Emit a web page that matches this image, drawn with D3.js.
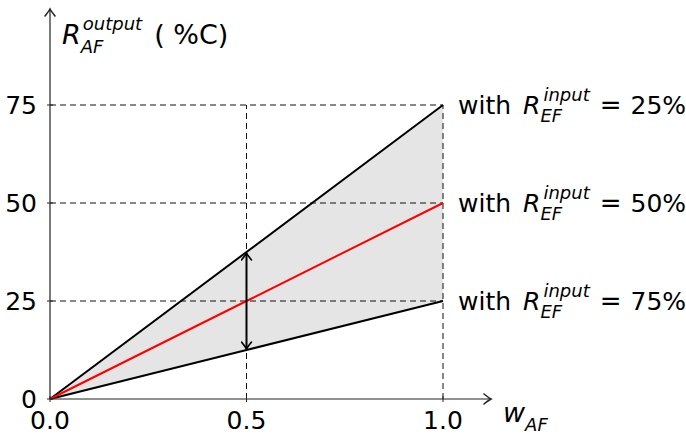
<!DOCTYPE html>
<html>
<head>
<meta charset="utf-8">
<script src="https://cdn.jsdelivr.net/npm/d3@7"></script>
<style>
  body { margin: 0; background: #fff; }
  svg { display: block; font-family: "DejaVu Sans", sans-serif; }
</style>
</head>
<body>
<div id="chart"></div>
<script>
// data
const wAF = [0, 0.5, 1.0];
const outHigh = [0, 37.5, 75];   // R_EF input = 25%
const outMid = [0, 25, 50];      // R_EF input = 50%
const outLow = [0, 12.5, 25];    // R_EF input = 75%
const rInput = [25, 50, 75];
const rEnd = [75, 50, 25];
const xTicks = [0, 0.5, 1.0];
const xTickLabels = ["0.0", "0.5", "1.0"];
const yTicks = [0, 25, 50, 75];

const width = 686, height = 435;

const x = d3.scaleLinear().domain([0, 1]).range([50, 443]);
const y = d3.scaleLinear().domain([0, 75]).range([399, 105]);

const svg = d3.select("#chart").append("svg")
    .attr("width", width)
    .attr("height", height);

// arrow heads
const defs = svg.append("defs");
function marker(id, color) {
    defs.append("marker")
        .attr("id", id)
        .attr("viewBox", "-10 -6 12 12")
        .attr("refX", 0).attr("refY", 0)
        .attr("markerWidth", 12).attr("markerHeight", 12)
        .attr("markerUnits", "userSpaceOnUse")
        .attr("orient", "auto-start-reverse")
        .append("path")
        .attr("d", "M-7,-5 Q-2,-1 0,0 Q-2,1 -7,5")
        .attr("fill", "none")
        .attr("stroke", color)
        .attr("stroke-width", 1.6)
        .attr("stroke-linecap", "round");
}
marker("ah", "#000");
marker("axh", "#222");

// shaded band between upper and lower line
const band = wAF.map((w, i) => ({ w, lo: outLow[i], hi: outHigh[i] }));
svg.append("path")
    .datum(band)
    .attr("fill", "#e5e5e5")
    .attr("d", d3.area().x(d => x(d.w)).y0(d => y(d.lo)).y1(d => y(d.hi)));

// dashed guides
const grid = svg.append("g")
    .attr("stroke", "#111")
    .attr("stroke-width", 1)
    .attr("stroke-dasharray", "6,4");
grid.selectAll(".hg").data(yTicks.filter(t => t > 0)).join("line")
    .attr("x1", x(0)).attr("x2", x(1))
    .attr("y1", d => y(d)).attr("y2", d => y(d));
grid.selectAll(".vg").data(xTicks.filter(t => t > 0)).join("line")
    .attr("x1", d => x(d)).attr("x2", d => x(d))
    .attr("y1", y(0)).attr("y2", y(75));

// lines
const line = d3.line().x((d, i) => x(wAF[i])).y(d => y(d));
svg.append("path").datum(outHigh).attr("d", line)
    .attr("fill", "none").attr("stroke", "#000").attr("stroke-width", 2);
svg.append("path").datum(outLow).attr("d", line)
    .attr("fill", "none").attr("stroke", "#000").attr("stroke-width", 2);
svg.append("path").datum(outMid).attr("d", line)
    .attr("fill", "none").attr("stroke", "#ff0000").attr("stroke-width", 2);

// double arrow at w = 0.5
svg.append("line")
    .attr("x1", x(wAF[1])).attr("x2", x(wAF[1]))
    .attr("y1", y(outLow[1]) - 1).attr("y2", y(outHigh[1]) + 1)
    .attr("stroke", "#000").attr("stroke-width", 2)
    .attr("marker-start", "url(#ah)")
    .attr("marker-end", "url(#ah)");

// axes
svg.append("line")
    .attr("x1", x(0)).attr("x2", 491)
    .attr("y1", y(0)).attr("y2", y(0))
    .attr("stroke", "#222").attr("stroke-width", 1.2)
    .attr("marker-end", "url(#axh)");
svg.append("line")
    .attr("x1", x(0)).attr("x2", x(0))
    .attr("y1", y(0)).attr("y2", 9)
    .attr("stroke", "#222").attr("stroke-width", 1.2)
    .attr("marker-end", "url(#axh)");

// ticks
svg.selectAll(".xt").data(xTicks).join("line")
    .attr("x1", d => x(d)).attr("x2", d => x(d))
    .attr("y1", y(0) - 3).attr("y2", y(0) + 3)
    .attr("stroke", "#222");
svg.selectAll(".yt").data(yTicks).join("line")
    .attr("x1", x(0) - 3).attr("x2", x(0) + 3)
    .attr("y1", d => y(d)).attr("y2", d => y(d))
    .attr("stroke", "#222");

svg.selectAll(".xl").data(xTicks).join("text")
    .attr("x", d => x(d)).attr("y", 429)
    .attr("text-anchor", "middle")
    .attr("font-size", 25)
    .text((d, i) => xTickLabels[i]);
svg.selectAll(".yl").data(yTicks).join("text")
    .attr("x", 37).attr("y", d => y(d) + 9)
    .attr("text-anchor", "end")
    .attr("font-size", 25)
    .text(d => d);

// math-like label: base letter with stacked super/subscript
function mathLabel(x0, base, parts) {
    const g = svg.append("g");
    let cx = x0;
    parts.forEach(p => {
        if (p.sup || p.sub) {
            let w = 0;
            if (p.sup) {
                const t = g.append("text").attr("x", cx + (p.supDx || 0)).attr("y", base + p.supDy)
                    .attr("font-size", p.size).attr("font-style", "italic").text(p.sup);
                w = Math.max(w, t.node().getComputedTextLength() + (p.supDx || 0));
            }
            if (p.sub) {
                const t = g.append("text").attr("x", cx).attr("y", base + p.subDy)
                    .attr("font-size", p.size).attr("font-style", "italic").text(p.sub);
                w = Math.max(w, t.node().getComputedTextLength());
            }
            cx += w + (p.after || 0);
        } else {
            const t = g.append("text").attr("x", cx).attr("y", base)
                .attr("font-size", p.size).attr("font-style", p.italic ? "italic" : "normal")
                .attr("xml:space", "preserve")
                .text(p.text);
            cx += t.node().getComputedTextLength() + (p.after || 0);
        }
    });
    return g;
}

// y axis title
mathLabel(62, 44, [
    { text: "R", size: 27, italic: true, after: 0 },
    { sup: "output", supDy: -14, supDx: 2, sub: "AF", subDy: 9, size: 18, after: 12 },
    { text: "( %C)", size: 27 }
]);

// x axis title
mathLabel(503, 422, [
    { text: "w", size: 27, italic: true },
    { sub: "AF", subDy: 9, size: 18 }
]);

// right-hand labels
rEnd.forEach((v, i) => {
    const b = y(v) + 9;
    mathLabel(458, b, [
        { text: "with", size: 25, after: 12 },
        { text: "R", size: 25, italic: true, after: 0 },
        { sup: "input", supDy: -13, supDx: 3, sub: "EF", subDy: 8, size: 18, after: 10 },
        { text: "=", size: 26, after: 9 },
        { text: rInput[i] + "%", size: 25 }
    ]);
});
</script>
</body>
</html>
